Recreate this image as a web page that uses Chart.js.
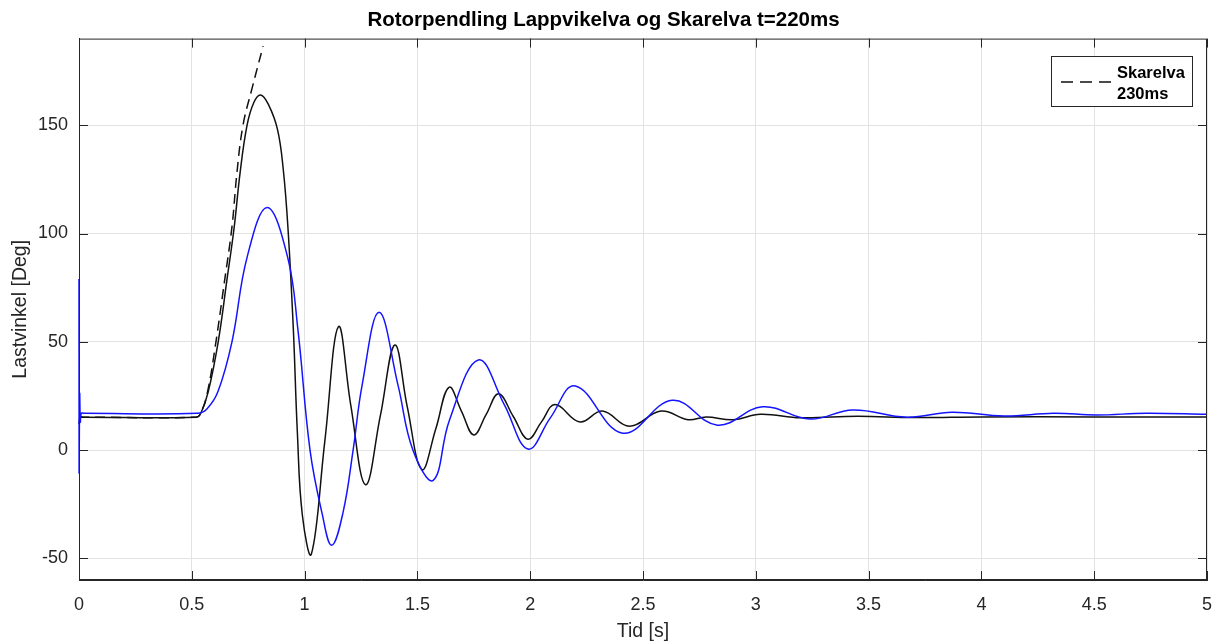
<!DOCTYPE html>
<html>
<head>
<meta charset="utf-8">
<script src="https://cdn.jsdelivr.net/npm/chart.js@4/dist/chart.umd.min.js"></script>
<style>
  html, body { margin: 0; padding: 0; background: #fff; }
  #wrap { width: 1215px; height: 641px; }
</style>
</head>
<body>
<div id="wrap"><canvas id="c" width="1215" height="641"></canvas></div>
<script>
const TITLE = 'Rotorpendling Lappvikelva og Skarelva t=220ms';
const X_LABEL = 'Tid [s]';
const Y_LABEL = 'Lastvinkel [Deg]';
const LEGEND_LINES = ['Skarelva', '230ms'];

const X_TICKS = [0, 0.5, 1, 1.5, 2, 2.5, 3, 3.5, 4, 4.5, 5];
const Y_TICKS = [-50, 0, 50, 100, 150];

// blue curve
const BLUE_T = [0, 0.0005, 0.003, 0.006, 0.01, 0.02, 0.525, 0.567, 0.616, 0.678, 0.745, 0.834, 0.925, 0.97,
  1.024, 1.077, 1.12, 1.17, 1.215, 1.255, 1.33, 1.414, 1.48, 1.57, 1.642, 1.77, 1.885, 1.99, 2.09, 2.20,
  2.41, 2.63, 2.83, 3.03, 3.24, 3.43, 3.67, 3.87, 4.10, 4.32, 4.51, 4.73, 5.0];
const BLUE_V = [79, -10, 26, 13, 17, 17, 17, 19, 27, 50, 89, 112, 89, 56,
  0, -29, -44, -29, 0, 30, 63.6, 30, 0, -14, 13.8, 41.6, 21, 0.5, 15, 29.6,
  7.8, 23, 11.5, 20, 14.3, 18.5, 15.2, 17.5, 15.7, 17, 16.2, 17, 16.5];

// black solid curve
const BLACK_T = [0, 0.006, 0.02, 0.52, 0.54, 0.573, 0.617, 0.655, 0.688, 0.714, 0.745, 0.775, 0.805, 0.84, 0.88,
  0.905, 0.926, 0.95, 0.968, 0.99, 1.03, 1.09, 1.15, 1.205, 1.27, 1.336, 1.40,
  1.455, 1.52, 1.582, 1.64, 1.695, 1.75, 1.805, 1.86, 1.925, 1.99, 2.05, 2.11, 2.22, 2.32, 2.44, 2.58,
  2.70, 2.78, 2.90, 3.02, 3.2, 3.45, 3.7, 4.0, 4.5, 5.0];
const BLACK_V = [12, 15.2, 15.2, 15.2, 17, 27, 50, 78, 103, 128, 150, 160.5, 164, 159.5, 148,
  130, 103, 56, 8, -30, -48, 4.5, 57, 20.5, -16, 16, 48.5,
  20, -9, 10, 29, 18, 7, 16.5, 26, 15.5, 5, 13, 21, 13, 18, 11, 18,
  14, 15.3, 14, 16.5, 14.9, 15.6, 15.0, 15.3, 15.3, 15.3];

// dashed Skarelva 230ms
const DASH_T = [0, 0.52, 0.54, 0.57, 0.607, 0.645, 0.678, 0.70, 0.727, 0.767, 0.816];
const DASH_V = [15.2, 15.2, 17, 27, 50, 78, 103, 128, 150, 167, 186.5];

const pts = (ts, vs) => ts.map((t, i) => ({ x: t, y: vs[i] }));

const AXIS_COLOR = '#262626';
const FONT = 'Liberation Sans, Arial, Helvetica, sans-serif';

const boxPlugin = {
  id: 'matlabBox',
  afterDraw(chart) {
    const { ctx, chartArea: a, scales } = chart;
    ctx.save();
    ctx.strokeStyle = AXIS_COLOR;
    ctx.lineWidth = 1;
    ctx.strokeRect(a.left + 0.5, a.top + 0.5, a.right - a.left - 1, a.bottom - a.top - 1);
    const len = 9;
    ctx.beginPath();
    X_TICKS.forEach((v) => {
      const x = Math.round(scales.x.getPixelForValue(v)) + 0.5;
      ctx.moveTo(x, a.bottom); ctx.lineTo(x, a.bottom - len);
      ctx.moveTo(x, a.top); ctx.lineTo(x, a.top + len);
    });
    Y_TICKS.forEach((v) => {
      const y = Math.round(scales.y.getPixelForValue(v)) + 0.5;
      ctx.moveTo(a.left, y); ctx.lineTo(a.left + len, y);
      ctx.moveTo(a.right, y); ctx.lineTo(a.right - len, y);
    });
    ctx.stroke();

    // legend
    const bx = 1051.5, by = 56.5, bw = 141, bh = 50;
    ctx.fillStyle = '#fff';
    ctx.fillRect(bx, by, bw, bh);
    ctx.strokeStyle = AXIS_COLOR;
    ctx.strokeRect(bx, by, bw, bh);
    ctx.strokeStyle = '#111';
    ctx.lineWidth = 1.5;
    ctx.setLineDash([12, 7]);
    ctx.beginPath();
    ctx.moveTo(1061, 82); ctx.lineTo(1112, 82);
    ctx.stroke();
    ctx.setLineDash([]);
    ctx.fillStyle = '#000';
    ctx.font = 'bold 16.5px ' + FONT;
    ctx.textBaseline = 'middle';
    ctx.textAlign = 'left';
    ctx.fillText(LEGEND_LINES[0], 1117, 73);
    ctx.fillText(LEGEND_LINES[1], 1117, 94);
    ctx.restore();
  }
};

new Chart(document.getElementById('c'), {
  type: 'line',
  data: {
    datasets: [
      { label: 'Lappvikelva', data: pts(BLUE_T, BLUE_V), borderColor: '#1414ff', borderWidth: 1.5, pointRadius: 0, tension: 0.4, clip: 3 },
      { label: 'Skarelva', data: pts(BLACK_T, BLACK_V), borderColor: '#111', borderWidth: 1.5, pointRadius: 0, tension: 0.4, clip: 2 },
      { label: 'Skarelva 230ms', data: pts(DASH_T, DASH_V), borderColor: '#111', borderWidth: 1.5, borderDash: [10, 6], pointRadius: 0, tension: 0.4 },
    ],
  },
  options: {
    responsive: false,
    animation: false,
    events: [],
    layout: { padding: { right: 8, top: 0, left: 0, bottom: 0 } },
    plugins: {
      legend: { display: false },
      tooltip: { enabled: false },
      title: {
        display: true,
        text: TITLE,
        color: '#000',
        font: { family: FONT, size: 20.5, weight: 'bold', lineHeight: 1.2 },
        padding: { top: 8, bottom: 6 },
      },
    },
    scales: {
      x: {
        type: 'linear',
        min: 0,
        max: 5,
        afterFit: (s) => { s.height = 61; s.paddingLeft = 0; s.paddingRight = 0; },
        afterBuildTicks: (s) => { s.ticks = X_TICKS.map((v) => ({ value: v })); },
        ticks: { color: AXIS_COLOR, padding: 14, font: { family: FONT, size: 18 }, maxRotation: 0, callback: (v) => String(v) },
        grid: { color: '#e3e3e3', lineWidth: 1, drawTicks: false },
        border: { display: true, color: AXIS_COLOR },
        title: { display: true, text: X_LABEL, color: AXIS_COLOR, font: { family: FONT, size: 19.5, lineHeight: 1 }, padding: { top: 0, bottom: 0 } },
      },
      y: {
        type: 'linear',
        min: -60,
        max: 190,
        afterFit: (s) => { s.width = 79; s.paddingTop = 0; s.paddingBottom = 0; },
        afterBuildTicks: (s) => { s.ticks = Y_TICKS.map((v) => ({ value: v })); },
        ticks: { color: AXIS_COLOR, padding: 11, font: { family: FONT, size: 18 }, callback: (v) => String(v) },
        grid: { color: '#e3e3e3', lineWidth: 1, drawTicks: false },
        border: { display: true, color: AXIS_COLOR },
        title: { display: true, text: Y_LABEL, color: AXIS_COLOR, font: { family: FONT, size: 19.5 }, padding: { top: 9, bottom: 0 } },
      },
    },
  },
  plugins: [boxPlugin],
});
</script>
</body>
</html>
